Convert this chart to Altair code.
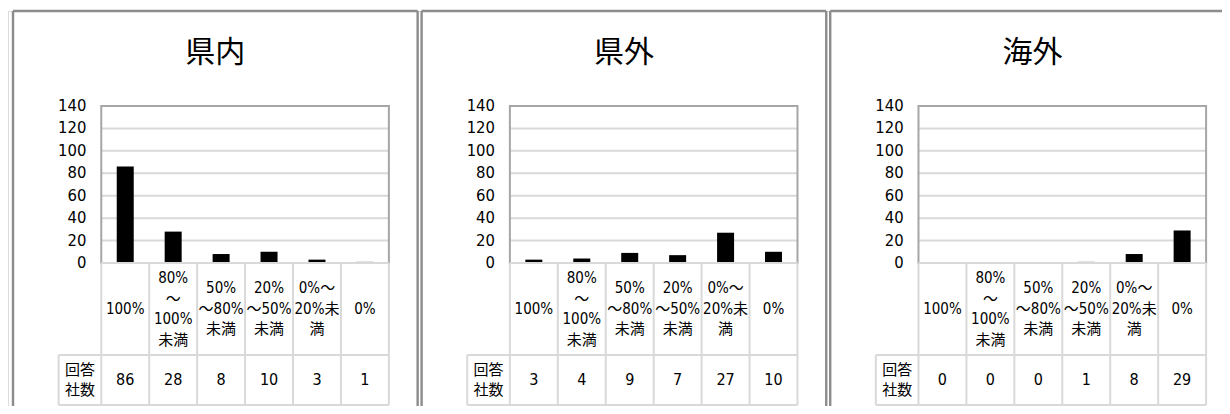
import altair as alt
import pandas as pd

# ---- data ----
regions = ["県内", "県外", "海外"]
categories = ["100%", "80%\n～\n100%\n未満", "50%\n～80%\n未満", "20%\n～50%\n未満", "0%～\n20%未\n満", "0%"]
counts_kennai = [86, 28, 8, 10, 3, 1]
counts_kengai = [3, 4, 9, 7, 27, 10]
counts_kaigai = [0, 0, 0, 1, 8, 29]
y_ticks = [0, 20, 40, 60, 80, 100, 120, 140]
row_label = "回答\n社数"

series = [counts_kennai, counts_kengai, counts_kaigai]

# ---- layout (px and unit conversions) ----
N = len(categories)
TOTAL_W, VIEW_H = 1214, 395
PANEL_STEP, PANEL_W = 412, 408
PXC = 290 / N                 # px per column unit
PLOT_LEFT = 89                # px from panel edge to plot area
PXU = 157 / 140               # px per y unit
PLOT_TOP = 95                 # px from view top to value 140
LABEL_RIGHT = 74              # px from panel edge to y-label right edge
LINE_H = 20.5                 # px line height of the table labels
ROW1_BOTTOM = -82.0
ROW2_BOTTOM = -126.6
LEFT_CELL = -0.89
TITLE_Y = 187.3

Y_DOMAIN = [-(VIEW_H - PLOT_TOP - 140 * PXU) / PXU, 140 + PLOT_TOP / PXU]
X_DOMAIN = [0, TOTAL_W / PXC]

LATIN = "DejaVu Sans Condensed, Noto Sans CJK JP, sans-serif"
CJK = "Noto Sans CJK JP"
BORDER = "#8c8c8c"
GRID = "#d9d9d9"

xs = alt.Scale(domain=X_DOMAIN, nice=False, zero=False)
ys = alt.Scale(domain=Y_DOMAIN, nice=False, zero=False)

bar_rows, tick_rows, grid_rows, line_rows, frame_rows, plot_rows, title_rows, lab_rows = \
    [], [], [], [], [], [], [], []
for p, (name, counts) in enumerate(zip(regions, series)):
    edge = p * PANEL_STEP / PXC
    off = (p * PANEL_STEP + PLOT_LEFT) / PXC
    for i, (cat, v) in enumerate(zip(categories, counts)):
        n_lines = cat.count("\n") + 1
        bar_rows.append({
            "panel": name, "cat": cat, "v": v, "xc": off + i + 0.5,
            "ycat": ROW1_BOTTOM / 2 + (n_lines - 1) / 2 * LINE_H / PXU,
            "ycnt": (ROW1_BOTTOM + ROW2_BOTTOM) / 2,
        })
    for t in y_ticks:
        tick_rows.append({"x": (p * PANEL_STEP + LABEL_RIGHT) / PXC, "y": t, "t": str(t)})
        if 0 < t < max(y_ticks):
            grid_rows.append({"x": off, "x2": off + N, "y": t})
    for c in range(N + 1):
        line_rows.append({"x": off + c, "x2": off + c, "y": 0, "y2": ROW2_BOTTOM})
    line_rows += [
        {"x": off + LEFT_CELL, "x2": off + LEFT_CELL, "y": ROW1_BOTTOM, "y2": ROW2_BOTTOM},
        {"x": off + LEFT_CELL, "x2": off + N, "y": ROW1_BOTTOM, "y2": ROW1_BOTTOM},
        {"x": off + LEFT_CELL, "x2": off + N, "y": ROW2_BOTTOM, "y2": ROW2_BOTTOM},
        {"x": off, "x2": off + N, "y": 0, "y2": 0},
    ]
    right = edge + PANEL_W / PXC
    frame_rows += [
        {"x": edge, "x2": right, "y": Y_DOMAIN[1], "y2": Y_DOMAIN[1]},
        {"x": edge, "x2": edge, "y": Y_DOMAIN[1], "y2": Y_DOMAIN[0]},
        {"x": right, "x2": right, "y": Y_DOMAIN[1], "y2": Y_DOMAIN[0]},
    ]
    plot_rows.append({"x": off, "x2": off + N, "y": 0, "y2": max(y_ticks)})
    title_rows.append({"t": name, "x": edge + (PANEL_W / 2) / PXC, "y": TITLE_Y})
    lab_rows.append({"t": row_label, "x": off + LEFT_CELL / 2,
                     "y": (ROW1_BOTTOM + ROW2_BOTTOM) / 2 + 0.5 * 20 / PXU})

bars_df = pd.DataFrame(bar_rows)

gridlines = alt.Chart(pd.DataFrame(grid_rows)).mark_rule(color=GRID, strokeWidth=2).encode(
    x=alt.X("x:Q", scale=xs, axis=None), x2="x2:Q",
    y=alt.Y("y:Q", scale=ys, axis=None),
)
plot_frame = alt.Chart(pd.DataFrame(plot_rows)).mark_rect(
    fillOpacity=0, stroke="#a6a6a6", strokeWidth=2).encode(
    x=alt.X("x:Q", scale=xs), x2="x2:Q", y=alt.Y("y:Q", scale=ys), y2="y2:Q",
)
bars = alt.Chart(bars_df).mark_bar(color="#000000", size=17).encode(
    x=alt.X("xc:Q", scale=xs), y=alt.Y("v:Q", scale=ys), y2=alt.Y2(datum=0),
)
lines = alt.Chart(pd.DataFrame(line_rows)).mark_rule(color=GRID, strokeWidth=2).encode(
    x=alt.X("x:Q", scale=xs), x2="x2:Q", y=alt.Y("y:Q", scale=ys), y2="y2:Q",
)
frame = alt.Chart(pd.DataFrame(frame_rows)).mark_rule(color=BORDER, strokeWidth=2.4).encode(
    x=alt.X("x:Q", scale=xs), x2="x2:Q", y=alt.Y("y:Q", scale=ys), y2="y2:Q",
)
tick_text = alt.Chart(pd.DataFrame(tick_rows)).mark_text(
    font=LATIN, fontSize=16.5, align="right", baseline="middle", color="#000000").encode(
    x=alt.X("x:Q", scale=xs), y=alt.Y("y:Q", scale=ys), text="t:N")
cat_text = alt.Chart(bars_df).mark_text(font=LATIN, fontSize=15, lineBreak="\n",
                                        lineHeight=LINE_H, baseline="middle",
                                        color="#000000").encode(
    x=alt.X("xc:Q", scale=xs), y=alt.Y("ycat:Q", scale=ys), text="cat:N")
cnt_text = alt.Chart(bars_df).mark_text(font=LATIN, fontSize=16, baseline="middle",
                                        color="#000000").encode(
    x=alt.X("xc:Q", scale=xs), y=alt.Y("ycnt:Q", scale=ys), text="v:Q")
lab_text = alt.Chart(pd.DataFrame(lab_rows)).mark_text(font=CJK, fontSize=15, lineBreak="\n",
                                                       lineHeight=20, baseline="middle",
                                                       color="#000000").encode(
    x=alt.X("x:Q", scale=xs), y=alt.Y("y:Q", scale=ys), text="t:N")
title = alt.Chart(pd.DataFrame(title_rows)).mark_text(font=CJK, fontSize=30, baseline="middle",
                                                      color="#000000").encode(
    x=alt.X("x:Q", scale=xs), y=alt.Y("y:Q", scale=ys), text="t:N")

chart = alt.layer(
    gridlines, plot_frame, bars, lines, frame, tick_text, cat_text, cnt_text, lab_text, title
).properties(
    width=TOTAL_W, height=VIEW_H,
    padding={"left": 0, "top": 3, "right": 0, "bottom": 0},
    autosize=alt.AutoSizeParams(type="none"),
).configure_view(strokeWidth=0).configure(background="#ffffff")

chart.save("out.html", embed_options={"renderer": "svg", "actions": False})
